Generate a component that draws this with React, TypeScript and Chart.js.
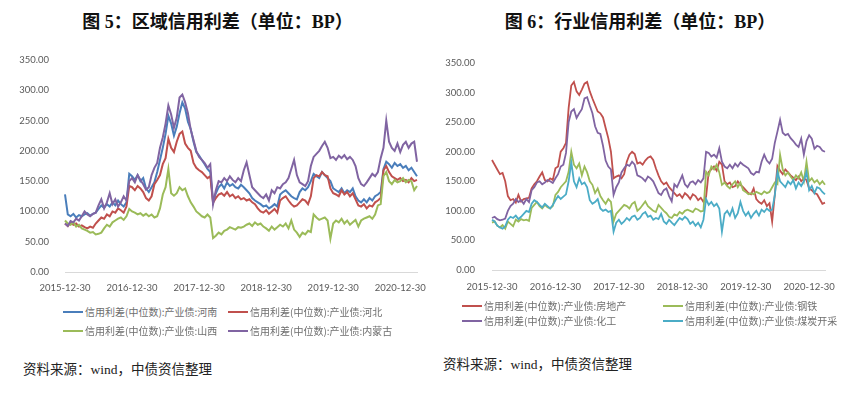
import React, { useEffect, useRef } from 'react';
import { Chart, registerables } from 'chart.js';

Chart.register(...registerables);

// ---------- tick labels / categories ----------
const yearTicks = ['2015-12-30', '2016-12-30', '2017-12-30', '2018-12-30', '2019-12-30', '2020-12-30'];
const yTickValues = [0, 50, 100, 150, 200, 250, 300, 350];

// semi-monthly observation dates from 2015-12-30 to 2021-03-30
const dates: string[] = [];
for (let i = 0; i < 127; i++) {
  const m = Math.ceil(i / 2);
  const total = 2015 * 12 + 11 + m;
  const y = Math.floor(total / 12);
  const mon = (total % 12) + 1;
  const d = i % 2 === 0 ? '30' : '15';
  dates.push(`${y}-${String(mon).padStart(2, '0')}-${d}`);
}

// ---------- Figure 5: regional credit spreads ----------
const henan = [
  128, 95, 92, 96, 90, 94, 92, 95, 97, 93, 96, 98,
  104, 110, 106, 112, 108, 115, 110, 118, 112, 108, 115, 162,
  158, 152, 160, 150, 155, 138, 132, 140, 148, 165, 185, 205,
  228, 258, 245, 225, 240, 262, 280, 270, 248, 236, 215, 198,
  192, 185, 178, 170, 165, 116, 130, 140, 145, 138, 148, 142,
  145, 140, 138, 144, 140, 135, 130, 122, 118, 115, 112, 108,
  110, 105, 108, 112, 108, 128, 132, 135, 130, 125, 122, 120,
  132, 138, 135, 140, 150, 162, 158, 155, 165, 160, 155, 150,
  138, 135, 132, 138, 130, 135, 132, 138, 125, 118, 115, 120,
  115, 122, 118, 125, 128, 132, 170, 182, 178, 172, 180, 175,
  178, 172, 175, 168, 172, 165, 158,
];
const hebei = [
  80, 76, 82, 78, 80, 75, 77, 74, 72, 75, 73, 80,
  85, 90, 88, 95, 92, 100, 98, 105, 102, 98, 108, 142,
  140, 135, 142, 138, 132, 122, 118, 125, 145, 152, 160, 178,
  188, 220, 205, 198, 215, 228, 232, 212, 205, 200, 180, 172,
  168, 165, 160, 155, 158, 114, 122, 128, 130, 126, 132, 125,
  128, 122, 125, 120, 122, 118, 120, 115, 112, 105, 100, 98,
  102, 96, 100, 104, 98, 118, 122, 125, 118, 112, 108, 110,
  115, 120, 118, 112, 125, 155, 160, 158, 165, 160, 158, 138,
  130, 128, 125, 135, 128, 132, 125, 130, 120, 110, 108, 112,
  105, 110, 108, 115, 118, 122, 168, 175, 165, 158, 155, 152,
  155, 150, 152, 148, 155, 150, 152,
];
const shanxi = [
  85, 80, 78, 82, 75, 78, 72, 70, 68, 65, 66, 62,
  63, 65, 72, 78, 75, 82, 85, 88, 90, 86, 92, 104,
  100, 98, 95, 97, 93, 96, 92, 95, 90, 92, 105, 128,
  140, 170, 130, 126, 130, 140, 135, 138, 125, 115, 108, 100,
  96, 92, 90, 95, 90, 56, 60, 65, 62, 68, 70, 74,
  72, 70, 74, 73, 75, 78, 80, 76, 82, 78, 80, 75,
  72, 68, 75, 70, 74, 78, 75, 80, 72, 85, 70, 65,
  58, 65, 62, 68, 66, 95, 90, 86, 88, 90, 85, 55,
  80, 85, 82, 88, 80, 85, 78, 82, 86, 75, 85, 88,
  90, 92, 88, 95, 110, 112, 158, 165, 150, 145, 152, 148,
  150, 155, 148, 152, 150, 135, 142,
];
const neimenggu = [
  80, 76, 84, 82, 88, 85, 92, 100, 95, 92, 96, 98,
  110, 120, 105, 115, 130, 112, 120, 108, 115, 125, 118, 150,
  155, 148, 160, 152, 145, 136, 140, 160, 172, 180, 205, 222,
  245, 275, 260, 238, 255, 288, 293, 280, 262, 235, 218, 200,
  190, 185, 180, 172, 178, 112, 135, 150, 148, 155, 150, 158,
  152, 148, 155, 150, 168, 181, 160, 140, 135, 130, 125, 122,
  128, 118, 135, 130, 140, 138, 145, 148, 155, 170, 185, 160,
  148, 145, 142, 150, 175, 190, 195, 200, 208, 215, 205, 188,
  190, 185, 192, 188, 193, 186, 190, 185, 175, 155, 145, 142,
  148, 155, 162, 158, 165, 188, 205, 250, 215, 205, 200, 212,
  198, 210, 215, 205, 212, 215, 182,
];

// ---------- Figure 6: industry credit spreads ----------
const realEstate = [
  186, 178, 170, 162, 164, 150, 125, 118, 120, 114, 127, 116,
  120, 121, 122, 138, 145, 150, 158, 165, 152, 150, 155, 152,
  172, 175, 200, 206, 215, 274, 312, 318, 302, 296, 305, 315,
  318, 302, 290, 279, 268, 265, 258, 240, 223, 200, 155, 158,
  160, 155, 162, 183, 195, 200, 196, 180, 182, 178, 185, 190,
  192, 186, 172, 160, 150, 145, 148, 140, 135, 130, 125, 128,
  122, 130, 126, 120, 128, 125, 118, 122, 115, 124, 166, 170,
  175, 168, 183, 178, 150, 145, 148, 140, 142, 150, 144, 140,
  135, 130, 128, 138, 120, 115, 112, 118, 108, 113, 82, 127,
  176, 168, 162, 170, 165, 160, 156, 152, 158, 150, 155, 152,
  138, 135, 130, 128, 120, 112, 114,
];
const steel = [
  80, 82, 75, 72, 76, 70, 82, 78, 74, 85, 82, 86,
  84, 85, 83, 105, 110, 115, 108, 104, 110, 106, 104, 108,
  127, 132, 140, 145, 150, 166, 200, 178, 172, 180, 160, 175,
  165, 150, 144, 130, 138, 125, 118, 112, 120, 115, 82, 95,
  100, 105, 110, 108, 104, 112, 115, 100, 104, 110, 116, 108,
  104, 100, 98, 110, 105, 100, 96, 90, 88, 94, 92, 98,
  95, 100, 102, 100, 98, 104, 102, 99, 100, 166, 160, 175,
  170, 178, 165, 144, 148, 142, 138, 145, 150, 140, 148, 135,
  132, 128, 130, 128, 132, 130, 128, 133, 130, 132, 140, 148,
  145, 195, 170, 160, 165, 158, 152, 160, 155, 165, 150, 183,
  150, 155, 148, 152, 145, 150, 144,
];
const chemical = [
  88, 90, 86, 84, 85, 87, 100, 108, 112, 120, 115, 118,
  112, 120, 115, 135, 140, 148, 150, 145, 148, 152, 150, 147,
  155, 162, 175, 178, 198, 250, 268, 272, 257, 265, 272, 290,
  292, 278, 265, 243, 232, 230, 210, 185, 175, 170, 127, 140,
  148, 165, 172, 178, 176, 183, 178, 160, 158, 155, 150, 158,
  155, 150, 140, 130, 127, 135, 138, 125, 116, 145, 140, 150,
  160, 145, 140, 148, 150, 145, 152, 148, 155, 200, 198, 192,
  195, 190, 206, 183, 175, 172, 178, 172, 180, 175, 182, 178,
  175, 172, 164, 161, 166, 165, 183, 195, 185, 180, 188, 215,
  234, 254, 232, 228, 230, 223, 218, 212, 208, 222, 195, 218,
  228, 222, 205, 210, 208, 202, 200,
];
const coal = [
  85, 82, 75, 72, 70, 74, 85, 90, 88, 92, 86, 90,
  95, 100, 98, 112, 118, 115, 110, 106, 112, 108, 104, 110,
  118, 125, 120, 124, 128, 150, 182, 150, 140, 155, 145, 148,
  140, 118, 112, 115, 120, 104, 100, 102, 98, 100, 65, 80,
  85, 78, 82, 88, 84, 90, 92, 85, 88, 95, 98, 90,
  92, 85, 88, 86, 95, 82, 78, 85, 80, 76, 82, 88,
  85, 90, 86, 78, 82, 75, 80, 72, 85, 120, 110, 115,
  108, 112, 104, 65, 95, 100, 92, 104, 88, 96, 115, 100,
  92, 98, 88, 95, 100, 92, 102, 98, 104, 100, 102, 126,
  166, 150, 145, 140, 150, 145, 152, 138, 148, 142, 150, 166,
  135, 142, 130, 140, 138, 132, 128,
];

const BLUE = '#4A7EBB';
const RED = '#C0504D';
const GREEN = '#9BBB59';
const PURPLE = '#8064A2';
const CYAN = '#4BACC6';

type Series = { label: string; data: number[]; color: string };

const fig5Series: Series[] = [
  { label: '信用利差(中位数):产业债:河南', data: henan, color: BLUE },
  { label: '信用利差(中位数):产业债:河北', data: hebei, color: RED },
  { label: '信用利差(中位数):产业债:山西', data: shanxi, color: GREEN },
  { label: '信用利差(中位数):产业债:内蒙古', data: neimenggu, color: PURPLE },
];
const fig6Series: Series[] = [
  { label: '信用利差(中位数):产业债:房地产', data: realEstate, color: RED },
  { label: '信用利差(中位数):产业债:钢铁', data: steel, color: GREEN },
  { label: '信用利差(中位数):产业债:化工', data: chemical, color: PURPLE },
  { label: '信用利差(中位数):产业债:煤炭开采', data: coal, color: CYAN },
];

type Geo = {
  left: number; top: number; width: number; height: number;
  padTop: number; padRight: number; yWidth: number; xHeight: number;
  lineWidth: number; xPad: number; yPad: number;
};

function LineChart({ series, geo }: { series: Series[]; geo: Geo }) {
  const ref = useRef<HTMLCanvasElement | null>(null);
  useEffect(() => {
    if (!ref.current) return;
    const chart = new Chart(ref.current, {
      type: 'line',
      data: {
        labels: dates,
        datasets: series.map((s, idx) => ({
          label: s.label,
          data: s.data,
          borderColor: s.color,
          backgroundColor: s.color,
          borderWidth: geo.lineWidth,
          pointRadius: 0,
          pointHoverRadius: 0,
          tension: 0,
          fill: false,
          order: series.length - idx,
        })),
      },
      options: {
        responsive: false,
        animation: false,
        devicePixelRatio: 1,
        layout: { padding: { top: geo.padTop, right: geo.padRight, left: 0, bottom: 0 } },
        plugins: {
          legend: { display: false },
          tooltip: { enabled: false },
          title: { display: false },
        },
        scales: {
          x: {
            type: 'category',
            grid: { display: false },
            border: { display: true, color: '#D9D9D9', width: 1 },
            ticks: {
              autoSkip: false,
              maxRotation: 0,
              minRotation: 0,
              padding: geo.xPad,
              color: '#595959',
              font: { family: 'Lato, "Liberation Sans", sans-serif', size: 9.5 },
              callback: function (this: any, value: any) {
                const lab = this.getLabelForValue(value);
                return yearTicks.includes(lab) ? lab : '';
              },
            },
            afterFit: (scale: any) => { scale.height = geo.xHeight; },
          },
          y: {
            min: 0,
            max: 350,
            grid: { display: false },
            border: { display: false },
            afterBuildTicks: (scale: any) => { scale.ticks = yTickValues.map((v) => ({ value: v })); },
            ticks: {
              padding: geo.yPad,
              color: '#595959',
              font: { family: 'Lato, "Liberation Sans", sans-serif', size: 9.5 },
              callback: (v: any) => Number(v).toFixed(2),
            },
            afterFit: (scale: any) => { scale.width = geo.yWidth; },
          },
        },
      },
    });
    return () => chart.destroy();
  }, [series, geo]);
  return (
    <canvas
      ref={ref}
      width={geo.width}
      height={geo.height}
      style={{ position: 'absolute', left: geo.left, top: geo.top, width: geo.width, height: geo.height }}
    />
  );
}

const geo5: Geo = { left: 0, top: 40, width: 430, height: 260, padTop: 20, padRight: 13, yWidth: 65, xHeight: 28, lineWidth: 2, xPad: 2, yPad: 8 };
const geo6: Geo = { left: 430, top: 40, width: 427, height: 260, padTop: 23, padRight: 32, yWidth: 62, xHeight: 30, lineWidth: 1.8, xPad: 3, yPad: 9 };

const legend5 = [
  { x: 63, y: 312 }, { x: 228, y: 312 }, { x: 63, y: 331 }, { x: 228, y: 331 },
];
const legend6 = [
  { x: 462, y: 306 }, { x: 663, y: 306 }, { x: 462, y: 321 }, { x: 663, y: 321 },
];

function Legend({ series, pos }: { series: Series[]; pos: { x: number; y: number }[] }) {
  return (
    <>
      {series.map((s, i) => (
        <div
          key={s.label}
          style={{
            position: 'absolute', left: pos[i].x, top: pos[i].y - 8, height: 16,
            display: 'flex', alignItems: 'center', whiteSpace: 'nowrap',
          }}
        >
          <div style={{ width: 20, height: 2, background: s.color, marginRight: 2 }} />
          <span style={{ fontFamily: '"Noto Sans CJK SC", sans-serif', fontSize: 10, color: '#6E6E6E', lineHeight: '16px' }}>
            {s.label}
          </span>
        </div>
      ))}
    </>
  );
}

const titleFont = '"Liberation Serif", "Noto Sans CJK SC", serif';
const sourceFont = '"Liberation Serif", "Noto Sans CJK SC", serif';

export default function App() {
  return (
    <div style={{ position: 'fixed', left: 0, top: 0, width: 857, height: 394, background: '#fff', overflow: 'hidden' }}>
      <div style={{ position: 'absolute', left: 0, top: 9, width: 435, textAlign: 'center', fontFamily: titleFont, fontWeight: 700, fontSize: 18, lineHeight: '26px', color: '#111' }}>
        图 5：区域信用利差（单位：BP）
      </div>
      <div style={{ position: 'absolute', left: 430, top: 9, width: 420, textAlign: 'center', fontFamily: titleFont, fontWeight: 700, fontSize: 18, lineHeight: '26px', color: '#111' }}>
        图 6：行业信用利差（单位：BP）
      </div>
      <LineChart series={fig5Series} geo={geo5} />
      <LineChart series={fig6Series} geo={geo6} />
      <Legend series={fig5Series} pos={legend5} />
      <Legend series={fig6Series} pos={legend6} />
      <div style={{ position: 'absolute', left: 23, top: 360, fontFamily: sourceFont, fontSize: 13.5, lineHeight: '20px', color: '#222', whiteSpace: 'nowrap' }}>
        资料来源：wind，中债资信整理
      </div>
      <div style={{ position: 'absolute', left: 443, top: 355, fontFamily: sourceFont, fontSize: 13.5, lineHeight: '20px', color: '#222', whiteSpace: 'nowrap' }}>
        资料来源：wind，中债资信整理
      </div>
    </div>
  );
}
